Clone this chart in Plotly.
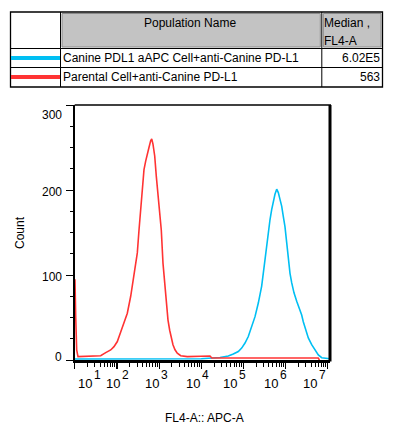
import plotly.graph_objects as go

W, H = 397, 440

# ---------------- data ----------------
series_names = ["Canine PDL1 aAPC Cell+anti-Canine PD-L1", "Parental Cell+anti-Canine PD-L1"]
medians = ["6.02E5", "563"]
colors = ["#00BFF3", "#FF3333"]

# blue histogram (log10 of FL4-A, count)
blue_log = [1.0, 2.0, 3.0, 4.0, 4.443, 4.640, 4.758, 4.877, 4.957, 5.036, 5.114, 5.194, 5.273,
            5.351, 5.431, 5.510, 5.550, 5.588, 5.628, 5.668, 5.706, 5.746, 5.787, 5.825, 5.865,
            5.905, 5.943, 5.983, 6.024, 6.062, 6.102, 6.142, 6.197, 6.261, 6.339, 6.379, 6.417,
            6.481, 6.536, 6.616, 6.694, 6.773, 6.853, 7.01, 7.05]
blue_count = [1.2, 1.2, 1.2, 1.5, 3, 4.7, 7, 10, 14, 20, 27.6, 39, 51,
              67, 87, 118, 134, 153, 165, 177, 187, 195, 201, 197, 189,
              181, 169, 157, 138, 118, 102, 91, 79, 69, 59, 53, 45,
              35, 26, 18, 12, 6, 2.7, 1.5, 1.5]

# red histogram
red_log = [1.0, 1.007, 1.024, 1.047, 1.078, 1.379, 1.616, 1.735, 1.853, 1.931, 2.01, 2.09,
           2.168, 2.247, 2.327, 2.405, 2.484, 2.524, 2.564, 2.602, 2.642, 2.682, 2.72, 2.76,
           2.80, 2.825, 2.855, 2.896, 2.934, 2.974, 3.014, 3.052, 3.092, 3.133, 3.171, 3.211,
           3.251, 3.289, 3.329, 3.377, 3.431, 3.512, 3.668, 3.986, 4.206, 4.25, 6.77, 6.80]
red_count = [94, 94, 51, 12, 4, 4.5, 5, 8.7, 11.8, 15.7, 21.7, 33,
             43, 55, 75, 102, 126, 153, 181, 197, 224, 234, 244, 250,
             258, 260, 254, 240, 216, 197, 173, 153, 114, 91, 67, 47,
             35, 26, 18, 12, 8, 5, 4, 4.5, 4.7, 2.3, 2.3, 0]

x_exponents = [1, 2, 3, 4, 5, 6, 7]
y_ticks = [0, 100, 200, 300]
x_title = "FL4-A:: APC-A"
y_title = "Count"
header_name = "Population Name"
header_median = ["Median ,", "FL4-A"]

# ---------------- figure ----------------
FONT = "Arial, Liberation Sans, sans-serif"
fig = go.Figure()
fig.add_trace(go.Scatter(x=[10 ** v for v in blue_log], y=blue_count, mode="lines",
                         line=dict(color=colors[0], width=1.6), hoverinfo="skip"))
fig.add_trace(go.Scatter(x=[10 ** v for v in red_log], y=red_count, mode="lines",
                         line=dict(color=colors[1], width=1.6), hoverinfo="skip"))

def px(x):
    return x / W

def py(y):
    return 1 - y / H

PL, PR, PT, PB = 74.7, 330.0, 105.0, 360.0

minor_vals = [m * 10 ** d for d in range(1, 8) for m in range(2, 10) if m * 10 ** d < 10 ** 7.05]

fig.update_layout(
    width=W, height=H, autosize=False,
    margin=dict(l=0, r=0, t=0, b=0),
    paper_bgcolor="white", plot_bgcolor="white",
    showlegend=False,
    font=dict(family=FONT, size=12, color="black"),
    xaxis=dict(type="log", range=[1, 7.05], domain=[px(PL), px(PR)],
               showgrid=False, zeroline=False, showline=True, linecolor="black", linewidth=3,
               ticks="outside", ticklen=6, tickwidth=1.2, tickcolor="black",
               tickvals=[10 ** e for e in x_exponents], showticklabels=False,
               minor=dict(tickvals=minor_vals, ticks="outside", ticklen=4, tickwidth=1, tickcolor="black")),
    yaxis=dict(range=[0, 300], domain=[py(PB), py(PT)],
               showgrid=False, zeroline=False, showline=True, linecolor="black", linewidth=1.8,
               ticks="outside", ticklen=7, tickwidth=1, tickcolor="black",
               tickvals=y_ticks, showticklabels=False,
               minor=dict(dtick=25, ticks="outside", ticklen=3, tickwidth=1, tickcolor="black")),
)

shapes = []
# frame top and right
shapes.append(dict(type="line", xref="paper", yref="paper", x0=px(PL), x1=px(PR + 1), y0=py(PT), y1=py(PT),
                   line=dict(color="black", width=1.5)))
shapes.append(dict(type="line", xref="paper", yref="paper", x0=px(PR), x1=px(PR), y0=py(PT), y1=py(PB + 1.5),
                   line=dict(color="black", width=3)))

# table
TL, TR, TT, TB = 10.5, 382.5, 12, 87
R1, R2 = 48.5, 67.5
C1, C2 = 60.5, 321.8
shapes.append(dict(type="rect", xref="paper", yref="paper", x0=px(C1 + 1.5), x1=px(C2 - 1.5), y0=py(TT + 1.5), y1=py(R1 - 1.5),
                   fillcolor="#C3C3C3", line=dict(color="#8A8A8A", width=1)))
shapes.append(dict(type="rect", xref="paper", yref="paper", x0=px(C2 + 1.5), x1=px(TR - 1.5), y0=py(TT + 1.5), y1=py(R1 - 1.5),
                   fillcolor="#C3C3C3", line=dict(color="#8A8A8A", width=1)))
shapes.append(dict(type="rect", xref="paper", yref="paper", x0=px(TL), x1=px(TR), y0=py(TT), y1=py(TB),
                   line=dict(color="black", width=1.3)))
for yy in (R1, R2):
    shapes.append(dict(type="line", xref="paper", yref="paper", x0=px(TL), x1=px(TR), y0=py(yy), y1=py(yy),
                       line=dict(color="black", width=1)))
for xx in (C1, C2):
    shapes.append(dict(type="line", xref="paper", yref="paper", x0=px(xx), x1=px(xx), y0=py(TT), y1=py(TB),
                       line=dict(color="black", width=1)))
# legend swatches
for i, yy in enumerate((58, 77)):
    shapes.append(dict(type="line", xref="paper", yref="paper", x0=px(TL + 0.5), x1=px(C1 - 0.5), y0=py(yy), y1=py(yy),
                       line=dict(color=colors[i], width=4)))
fig.update_layout(shapes=shapes)

anns = []

def ann(text, x, y, xanchor="center", yanchor="middle", size=12, angle=0):
    anns.append(dict(text=text, x=px(x), y=py(y), xref="paper", yref="paper", xanchor=xanchor,
                     yanchor=yanchor, showarrow=False, textangle=angle,
                     font=dict(family=FONT, size=size, color="black"), borderpad=0))

ann(header_name, 190, 23)
ann(header_median[0], 323, 23, xanchor="left")
ann(header_median[1], 323, 41, xanchor="left")
for i, yy in enumerate((58, 77)):
    ann(series_names[i], 61.5, yy, xanchor="left")
    ann(medians[i], 381, yy, xanchor="right")

# x tick labels
sup_left = [93, 121.3, 159.7, 201, 238.3, 278.5, 317.5]
for e, sx in zip(x_exponents, sup_left):
    ann("10", sx, 383.5, xanchor="right", size=13)
    ann(str(e), sx, 374.5, xanchor="left", size=12)

# y tick labels
y_label_pos = [357, 276.7, 191.7, 115]
for v, yy in zip(y_ticks, y_label_pos):
    ann(str(v), 63, yy, xanchor="right", size=12)

ann(x_title, 204, 418, size=12)
ann(y_title, 20, 233, size=12, angle=-90)
fig.update_layout(annotations=anns)

fig.write_html("out.html", config={"displayModeBar": False, "staticPlot": True},
               post_script="document.body.style.margin='0px';document.body.style.overflow='hidden';")
